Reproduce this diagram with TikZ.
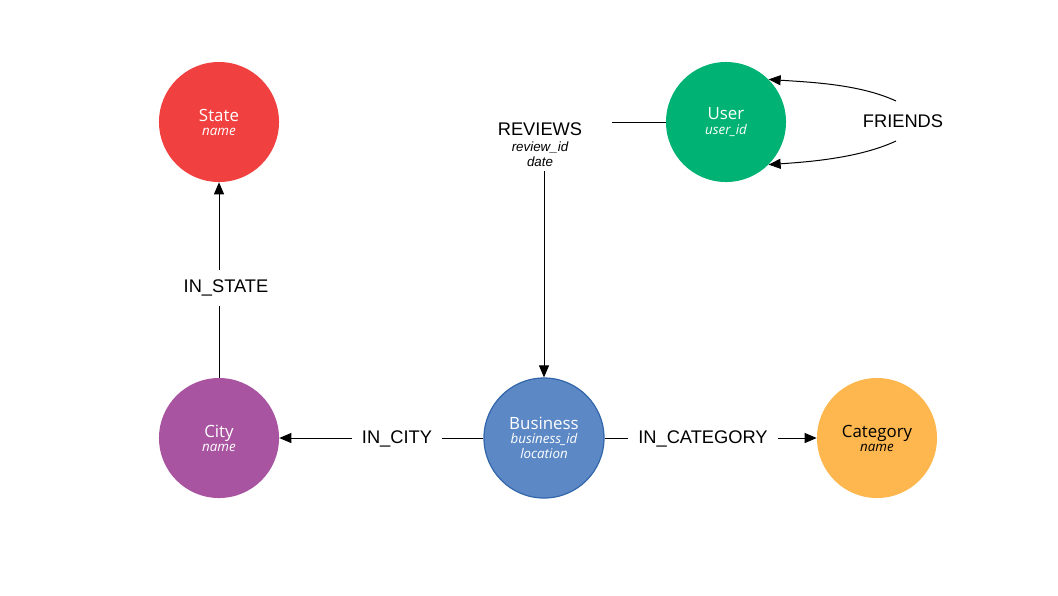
\documentclass[tikz,border=0pt]{standalone}
\usepackage{fontspec}
\setmainfont{Liberation Sans}
\newfontfamily\circfont{Open Sans}
\usetikzlibrary{arrows.meta,positioning}
\definecolor{statecol}{RGB}{240,65,64}
\definecolor{usercol}{RGB}{0,178,115}
\definecolor{citycol}{RGB}{168,84,160}
\definecolor{busicol}{RGB}{92,137,198}
\definecolor{busiline}{RGB}{50,102,170}
\definecolor{catcol}{RGB}{253,183,78}
\tikzset{
	entity/.style={circle,minimum size=3cm,inner sep=0pt,align=center,text=white,
		font=\circfont\fontsize{12}{14}\selectfont},
	relname/.style={align=center,inner sep=0.25cm,font=\fontsize{13}{15}\selectfont},
	conn/.style={line width=0.025cm},
	arr/.style={conn,-{Triangle[length=0.3cm,width=0.25cm]}}
}
\newcommand{\attr}[1]{{\itshape\fontsize{9.5}{11}\selectfont #1}}

\begin{document}
\begin{tikzpicture}[x=0.025cm,y=-0.025cm]
	\useasboundingbox (0,0) rectangle (1058,595);
	{
	% Marking the nodes
	\node[entity,fill=statecol] (State) at (219,122) {State\\[-4pt]\attr{name}};
	\node[entity,fill=usercol] (User) at (726,122) {User\\[-4pt]\attr{user\_id}};
	\node[entity,fill=citycol] (City) at (219,438) {City\\[-4pt]\attr{name}};
	\node[entity,fill=busicol,draw=busiline,line width=0.03cm] (Business) at (544,438) {Business\\[-4pt]\attr{business\_id}\\[-3pt]\attr{location}};
	\node[entity,fill=catcol,text=black] (Category) at (877,438) {Category\\[-4pt]\attr{name}};

	% Marking the relation names
	\node[relname] (instate) at (226,288) {IN\_STATE};
	\node[relname] (incity) at (397,439) {IN\_CITY};
	\node[relname] (incat) at (703,439) {IN\_CATEGORY};
	\node[relname,inner sep=0.1cm] (reviews) at (540,145) {REVIEWS\\[-4pt]\attr{review\_id}\\[-4pt]\attr{date}};
	\node[relname,inner sep=0pt] (friends) at (903,121) {FRIENDS};
	\coordinate (revin) at (612,122);
	\coordinate (frup) at (896,101);
	\coordinate (frdown) at (896,141);

	% Drawing line City State
	\draw[conn] (City.north) -- (City.north |- instate.south);
	\draw[arr] (City.north |- instate.north) -- (State.south);

	% Drawing line Business City
	\draw[conn] (Business.west) -- (incity.east |- Business.west);
	\draw[arr] (incity.west |- City.east) -- (City.east);

	% Drawing line Business Category
	\draw[conn] (Business.east) -- (incat.west |- Business.east);
	\draw[arr] (incat.east |- Category.west) -- (Category.west);

	% Drawing line User Business
	\draw[conn] (User.west) -- (revin);
	\draw[arr] (reviews.south -| Business.north) -- (Business.north);

	% Drawing line User User
	\draw[arr] (frup) to[out=155,in=-4,looseness=0.8] (User.45);
	\draw[arr] (frdown) to[out=-155,in=4,looseness=0.8] (User.-45);
	}
\end{tikzpicture}
\end{document}
